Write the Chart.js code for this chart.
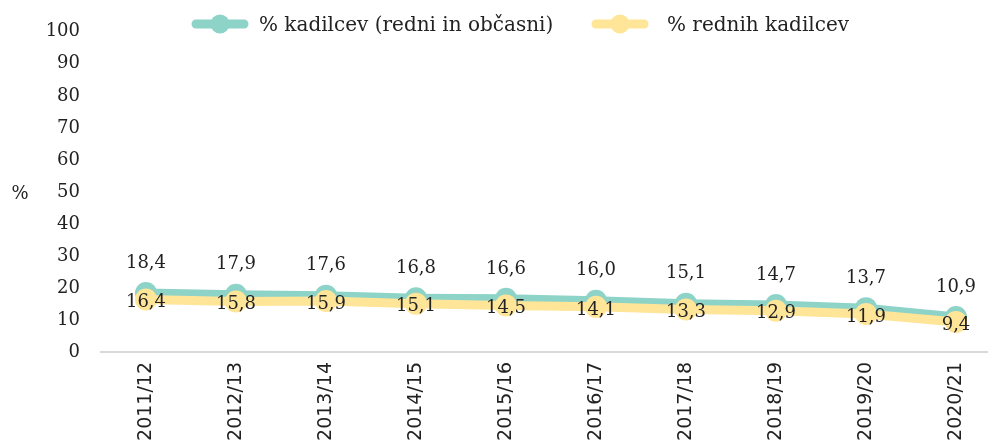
<!DOCTYPE html>
<html>
<head>
<meta charset="utf-8">
<script src="https://cdn.jsdelivr.net/npm/chart.js@4"></script>
<style>
  html, body { margin: 0; padding: 0; background: #fff; }
  #wrap { position: relative; width: 988px; height: 447px; overflow: hidden; }
  #cv { position: absolute; left: 0; top: 0; }
  #legend { position: absolute; top: 11px; left: 0; width: 988px; height: 26px; font-family: "DejaVu Serif", serif; font-size: 20px; color: #222; }
  .item { position: absolute; top: 0; height: 26px; display: flex; align-items: center; white-space: nowrap; }
  .item svg { display: block; }
</style>
</head>
<body>
<div id="wrap">
  <canvas id="cv" width="1012" height="447" style="width:1012px;height:447px"></canvas>
  <div id="legend"></div>
</div>
<script>
const categories = ["2011/12","2012/13","2013/14","2014/15","2015/16","2016/17","2017/18","2018/19","2019/20","2020/21"];
const smokersAll = [18.4,17.9,17.6,16.8,16.6,16.0,15.1,14.7,13.7,10.9];
const smokersRegular = [16.4,15.8,15.9,15.1,14.5,14.1,13.3,12.9,11.9,9.4];
const seriesNames = ["% kadilcev (redni in občasni)", "% rednih kadilcev"];
const yTicks = [0,10,20,30,40,50,60,70,80,90,100];

const TEAL = "#8ed3c7";
const YELLOW = "#ffe598";
const colors = [TEAL, YELLOW];

// HTML legend
const legend = document.getElementById("legend");
const legendX = [191, 591];
seriesNames.forEach((name, i) => {
  const d = document.createElement("div");
  d.className = "item";
  d.style.left = legendX[i] + "px";
  d.innerHTML = '<svg width="58" height="22"><line x1="5" y1="11" x2="53" y2="11" stroke="' + colors[i] +
    '" stroke-width="9" stroke-linecap="round"/><circle cx="29" cy="11" r="9.5" fill="' + colors[i] + '"/></svg>' +
    '<span style="margin-left:' + (i === 0 ? 10 : 18) + 'px">' + name + '</span>';
  legend.appendChild(d);
});

const fmt = v => v.toFixed(1).replace(".", ",");

const labelPlugin = {
  id: "valueLabels",
  afterDatasetsDraw(chart) {
    const ctx = chart.ctx;
    ctx.save();
    ctx.font = "18px 'DejaVu Serif'";
    ctx.fillStyle = "#222";
    ctx.textAlign = "center";
    ctx.textBaseline = "middle";
    chart.data.datasets.forEach((ds, di) => {
      const meta = chart.getDatasetMeta(di);
      meta.data.forEach((pt, i) => {
        const dy = di === 0 ? -30 : 3;
        ctx.fillText(fmt(ds.data[i]), pt.x, pt.y + dy);
      });
    });
    // y axis unit label
    const ca = chart.chartArea;
    ctx.textAlign = "center";
    ctx.fillText("%", 20, (ca.top + ca.bottom) / 2 + 2);
    ctx.restore();
  }
};

new Chart(document.getElementById("cv"), {
  type: "line",
  data: {
    labels: categories,
    datasets: [
      { label: seriesNames[0], data: smokersAll, borderColor: TEAL, backgroundColor: TEAL,
        pointBackgroundColor: TEAL, pointBorderWidth: 0, pointRadius: 11, borderWidth: 9, tension: 0, order: 1 },
      { label: seriesNames[1], data: smokersRegular, borderColor: YELLOW, backgroundColor: YELLOW,
        pointBackgroundColor: YELLOW, pointBorderWidth: 0, pointRadius: 11, borderWidth: 9, tension: 0, order: 0 }
    ]
  },
  options: {
    responsive: false,
    animation: false,
    layout: { padding: { top: 27, right: 0, left: 0, bottom: 0 } },
    plugins: { legend: { display: false }, tooltip: { enabled: false } },
    scales: {
      x: {
        offset: true,
        grid: { display: false, drawTicks: false },
        border: { display: true, color: "#d9d9d9", width: 2 },
        ticks: { minRotation: 90, maxRotation: 90, padding: 10, color: "#222",
                 font: { family: "DejaVu Sans", size: 19 } },
        afterFit(scale) { scale.height = 95; }
      },
      y: {
        min: 0, max: 100,
        afterBuildTicks(scale) { scale.ticks = yTicks.map(v => ({ value: v })); },
        grid: { display: false, drawTicks: false },
        border: { display: false },
        ticks: { padding: 21, color: "#222", font: { family: "DejaVu Serif", size: 18 } },
        afterFit(scale) { scale.width = 101; }
      }
    }
  },
  plugins: [labelPlugin]
});
</script>
</body>
</html>
